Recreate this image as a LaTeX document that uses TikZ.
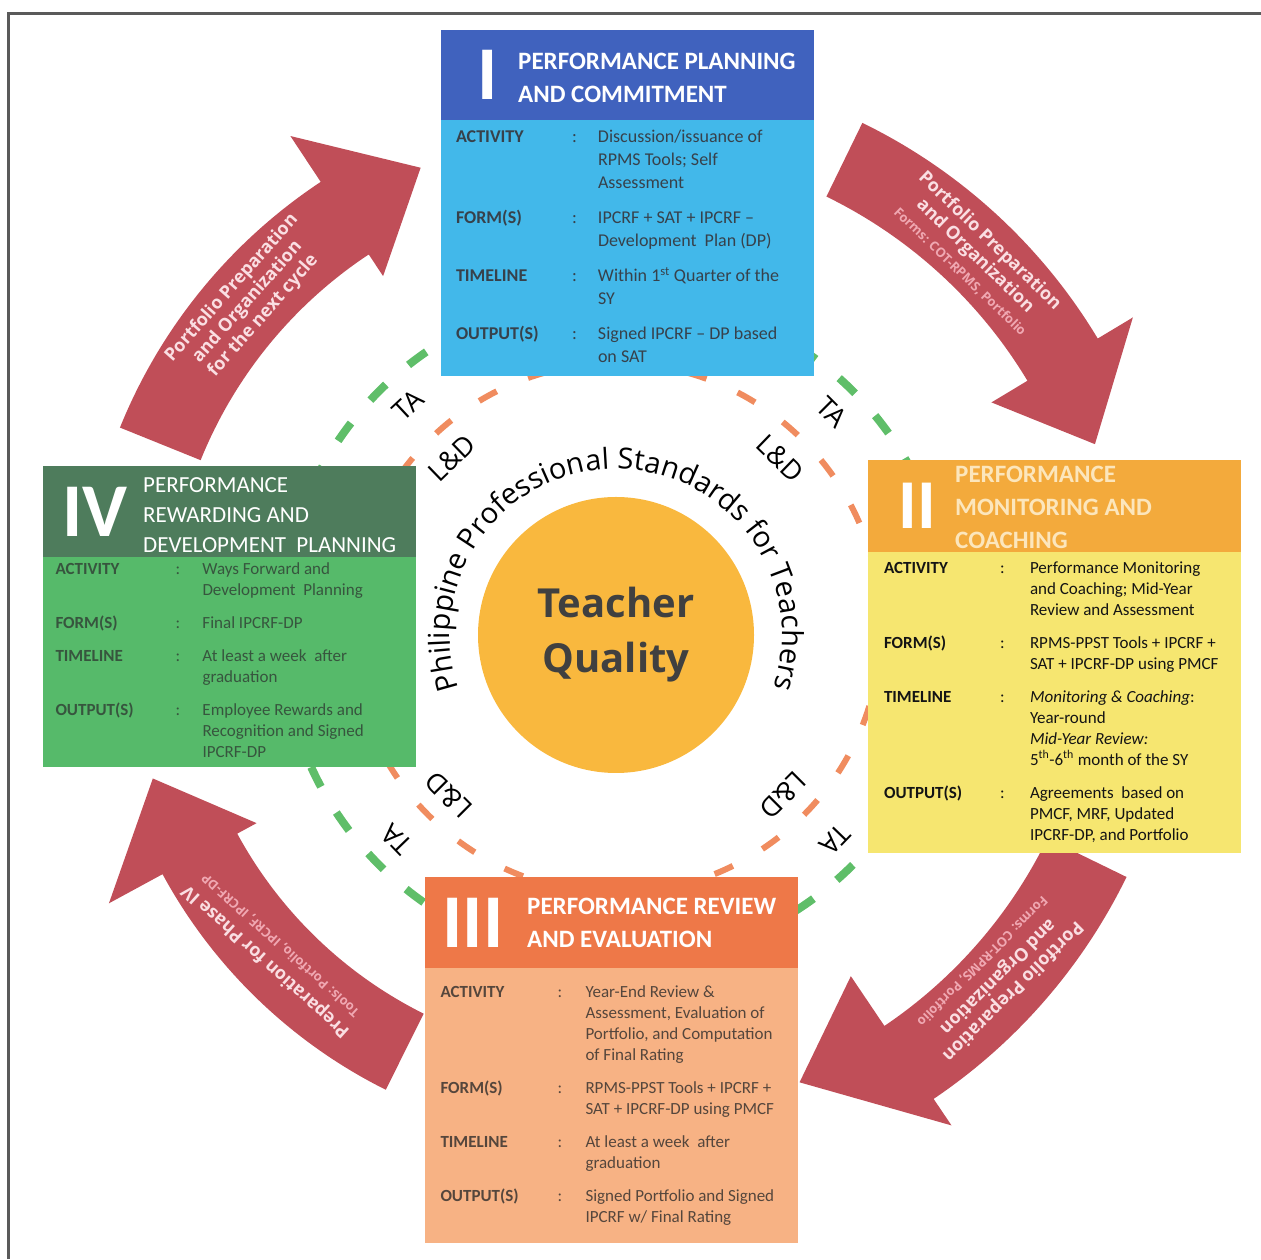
\documentclass[tikz,border=0pt]{standalone}
\usepackage{fontspec}
\setmainfont{Carlito}
\newfontfamily\opensans{Open Sans}
\usepackage{array}
\usetikzlibrary{positioning,calc,decorations.text}
\definecolor{frameline}{RGB}{90,90,90}
\definecolor{headblue}{RGB}{64,98,190}
\definecolor{bodyblue}{RGB}{66,184,234}
\definecolor{headorange}{RGB}{243,170,60}
\definecolor{bodyyellow}{RGB}{246,230,112}
\definecolor{headcoral}{RGB}{238,120,72}
\definecolor{bodypeach}{RGB}{247,178,132}
\definecolor{headgreen}{RGB}{78,124,92}
\definecolor{bodygreen}{RGB}{86,186,106}
\definecolor{qgold}{RGB}{249,184,62}
\definecolor{qtext}{RGB}{64,64,64}
\definecolor{arrowred}{RGB}{192,78,88}
\definecolor{arrowpink}{RGB}{250,222,226}
\definecolor{formpink}{RGB}{240,168,178}
\definecolor{ringgreen}{RGB}{95,190,105}
\definecolor{ringorange}{RGB}{240,140,95}
\newcommand{\boxwidth}{373pt}
\newcommand{\nextrow}{\\\noalign{\vskip 12pt}}
% curved arrow: tail, head base, tip angle; inner r, outer r; barb inner r, barb outer r; tip r
\newcommand{\cyclearrow}[8]{%
    \fill[arrowred]
        ($(hub)+(#1:#5)$) arc[start angle=#1, end angle=#2, radius=#5]
        -- ($(hub)+(#2:#7)$) -- ($(hub)+(#3:#8)$) -- ($(hub)+(#2:#6)$)
        -- ($(hub)+(#2:#4)$) arc[start angle=#2, end angle=#1, radius=#4] -- cycle;}
\newcommand{\smallform}[1]{{\color{formpink}\fontsize{13}{15}\selectfont #1}}
\tikzset{
    head/.style={anchor=north west, rectangle, minimum width=\boxwidth, inner sep=0pt, outer sep=0pt},
    body/.style={rectangle, minimum width=\boxwidth, inner sep=0pt, outer sep=0pt},
    numeral/.style={text=white, inner sep=0pt, font=\fontsize{76}{76}\selectfont\bfseries},
    title/.style={anchor=west, text=white, align=left, inner sep=0pt, font=\fontsize{25}{33}\selectfont\bfseries},
    ringlabel/.style={inner sep=1pt, text=black, font=\opensans\fontsize{27}{27}\selectfont},
    arrowtext/.style={text=arrowpink, align=center, inner sep=0pt, font=\opensans\bfseries\fontsize{18}{21}\selectfont},
    greenring/.style={ringgreen, line width=8pt, dash pattern=on 22pt off 30pt},
    orangering/.style={ringorange, line width=6pt, dash pattern=on 20pt off 34pt}
}
\begin{document}
\begin{tikzpicture}[x=1pt, y=1pt]
    \useasboundingbox (0,0) rectangle (1261,1259);
    \draw[frameline, line width=3pt] (8,0) -- (8,1245) -- (1261,1245);

    \coordinate (hub) at (616,631);
    \draw[greenring] (hub) circle[radius=335];
    \draw[orangering] (hub) circle[radius=265];

    \cyclearrow{158}{123.5}{113}{448}{535}{422}{590}{500}
    \cyclearrow{64}{31}{21}{480}{562}{438}{603}{513}
    \cyclearrow{-26}{-56}{-68}{480}{568}{420}{600}{490}
    \cyclearrow{243.5}{208.5}{198}{431}{516}{409}{577}{487}

    \node[arrowtext, rotate=48.5] (noteTL) at ($(hub)+(138.5:492)$)
        {Portfolio Preparation\\and Organization\\for the next cycle};
    \node[arrowtext, rotate=-44] (noteTR) at ($(hub)+(46:518)$)
        {Portfolio Preparation\\and Organization\\\smallform{Forms: COT-RPMS, Portfolio}};
    \node[arrowtext, rotate=-135] (noteBR) at ($(hub)+(-42.4:518)$)
        {Portfolio Preparation\\and Organization\\\smallform{Forms: COT-RPMS, Portfolio}};
    \node[arrowtext, rotate=138] (noteBL) at ($(hub)+(223.5:474)$)
        {Preparation for Phase IV\\\smallform{Tools: Portfolio, IPCRF, IPCRF-DP}};

    % phase I
    \node[head, fill=headblue, minimum height=90pt] (headI) at (441,1229) {};
    \node[numeral] (numI) at ([xshift=47pt]headI.west) {I};
    \node[title] (titleI) at ([xshift=77pt, yshift=-3pt]headI.west) {PERFORMANCE PLANNING\\AND COMMITMENT};
    \node[body, fill=bodyblue, minimum height=256pt, below=0pt of headI, text={rgb,255:red,55;green,65;blue,75},
        font=\fontsize{18}{23}\selectfont] (bodyI) {%
        \begin{tabular}{@{}>{\bfseries}p{116pt}@{}p{26pt}@{}>{\raggedright\arraybackslash}p{201pt}@{}}
            ACTIVITY & : & Discussion/issuance of\newline RPMS Tools; Self\newline Assessment\nextrow
            FORM(S) & : & IPCRF + SAT + IPCRF --\newline Development~ Plan (DP)\nextrow
            TIMELINE & : & Within 1\textsuperscript{st} Quarter of the\newline SY\nextrow
            OUTPUT(S) & : & Signed IPCRF -- DP based\newline on SAT
        \end{tabular}};

    % phase II
    \node[head, fill=headorange, minimum height=92pt] (headII) at (868,799) {};
    \node[numeral, font=\fontsize{70}{70}\selectfont\bfseries] (numII) at ([xshift=49pt]headII.west) {II};
    \node[title, text={rgb,255:red,252;green,230;blue,188}] (titleII) at ([xshift=87pt, yshift=-1pt]headII.west) {PERFORMANCE\\MONITORING AND\\COACHING};
    \node[body, fill=bodyyellow, minimum height=301pt, below=0pt of headII, text=black!92,
        font=\fontsize{17}{21}\selectfont] (bodyII) {%
        \begin{tabular}{@{}>{\bfseries}p{116pt}@{}p{30pt}@{}>{\raggedright\arraybackslash}p{195pt}@{}}
            ACTIVITY & : & Performance Monitoring\newline and Coaching; Mid-Year\newline Review and Assessment\nextrow
            FORM(S) & : & RPMS-PPST Tools + IPCRF +\newline SAT + IPCRF-DP using PMCF\nextrow
            TIMELINE & : & \textit{Monitoring \& Coaching}:\newline Year-round\newline \textit{Mid-Year Review:}\newline 5\textsuperscript{th}-6\textsuperscript{th} month of the SY\nextrow
            OUTPUT(S) & : & Agreements~ based on\newline PMCF, MRF, Updated\newline IPCRF-DP, and Portfolio
        \end{tabular}};

    % phase III
    \node[head, fill=headcoral, minimum height=91pt] (headIII) at (425,382) {};
    \node[numeral] (numIII) at ([xshift=48pt]headIII.west) {III};
    \node[title] (titleIII) at ([xshift=102pt]headIII.west) {PERFORMANCE REVIEW\\AND EVALUATION};
    \node[body, fill=bodypeach, minimum height=275pt, below=0pt of headIII, text={rgb,255:red,85;green,70;blue,60},
        font=\fontsize{17}{21}\selectfont] (bodyIII) {%
        \begin{tabular}{@{}>{\bfseries}p{117pt}@{}p{28pt}@{}>{\raggedright\arraybackslash}p{197pt}@{}}
            ACTIVITY & : & Year-End Review \&\newline Assessment, Evaluation of\newline Portfolio, and Computation\newline of Final Rating\nextrow
            FORM(S) & : & RPMS-PPST Tools + IPCRF +\newline SAT + IPCRF-DP using PMCF\nextrow
            TIMELINE & : & At least a week~ after\newline graduation\nextrow
            OUTPUT(S) & : & Signed Portfolio and Signed\newline IPCRF w/ Final Rating
        \end{tabular}};

    % phase IV
    \node[head, fill=headgreen, minimum height=91pt] (headIV) at (43,793) {};
    \node[numeral] (numIV) at ([xshift=52pt]headIV.west) {IV};
    \node[title, font=\fontsize{23}{30}\selectfont] (titleIV) at ([xshift=100pt, yshift=-4pt]headIV.west) {PERFORMANCE\\REWARDING AND\\DEVELOPMENT~ PLANNING};
    \node[body, fill=bodygreen, minimum height=210pt, below=0pt of headIV, text={rgb,255:red,55;green,85;blue,62},
        font=\fontsize{17}{21}\selectfont] (bodyIV) {%
        \begin{tabular}{@{}>{\bfseries}p{120pt}@{}p{27pt}@{}>{\raggedright\arraybackslash}p{201pt}@{}}
            ACTIVITY & : & Ways Forward and\newline Development~ Planning\nextrow
            FORM(S) & : & Final IPCRF-DP\nextrow
            TIMELINE & : & At least a week~ after\newline graduation\nextrow
            OUTPUT(S) & : & Employee Rewards and\newline Recognition and Signed\newline IPCRF-DP
        \end{tabular}};

    % centre
    \node[circle, fill=qgold, minimum size=276pt, inner sep=0pt, text=qtext, align=center,
        font=\opensans\bfseries\fontsize{40}{55}\selectfont] (core) at ([yshift=-7pt]hub) {Teacher\\Quality};
    \path[decorate, decoration={text along path, text align=center,
        text={|\opensans\fontsize{29}{29}\selectfont|Philippine Professional Standards for Teachers}}]
        ([shift={(215:166)}]core.center) arc[start angle=215, end angle=-35, radius=166];

    \node[ringlabel, rotate=43] (taTL) at ($(hub)+(133:305)$) {TA};
    \node[ringlabel, rotate=-45] (taTR) at ($(hub)+(45:305)$) {TA};
    \node[ringlabel, rotate=134] (taBL) at ($(hub)+(224:305)$) {TA};
    \node[ringlabel, rotate=226] (taBR) at ($(hub)+(316:305)$) {TA};
    \node[ringlabel, rotate=44] (ldTL) at ($(hub)+(134:236)$) {L\&D};
    \node[ringlabel, rotate=-44] (ldTR) at ($(hub)+(46:236)$) {L\&D};
    \node[ringlabel, rotate=135] (ldBL) at ($(hub)+(225:236)$) {L\&D};
    \node[ringlabel, rotate=225] (ldBR) at ($(hub)+(315:236)$) {L\&D};
\end{tikzpicture}
\end{document}
